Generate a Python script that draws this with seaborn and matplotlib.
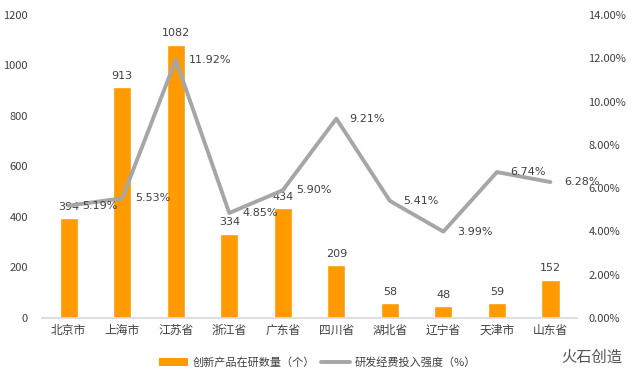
import numpy as np
import pandas as pd
import matplotlib
matplotlib.use("Agg")
import matplotlib.pyplot as plt
import seaborn as sns
from matplotlib.ticker import FuncFormatter
from matplotlib.lines import Line2D
from matplotlib.patches import Patch

regions = ["北京市", "上海市", "江苏省", "浙江省", "广东省", "四川省", "湖北省", "辽宁省", "天津市", "山东省"]
products = [394, 913, 1082, 334, 434, 209, 58, 48, 59, 152]
rd_intensity = [5.19, 5.53, 11.92, 4.85, 5.90, 9.21, 5.41, 3.99, 6.74, 6.28]
bar_label = "创新产品在研数量（个）"
line_label = "研发经费投入强度（%）"

sns.set_theme(style="white")
plt.rcParams['font.family'] = ['Noto Sans CJK SC', 'DejaVu Sans']

bar_color = "#FF9A00"
line_color = "#A6A6A6"

fig = plt.figure(figsize=(6.35, 3.84), dpi=100)
ax = fig.add_axes([0.066, 0.172, 0.843, 0.789])

df = pd.DataFrame({"region": regions, "products": products})
sns.barplot(data=df, x="region", y="products", color=bar_color, width=0.34,
            saturation=1, ax=ax, zorder=2)
ax.set_ylim(0, 1200)
ax.set_yticks(range(0, 1201, 200))
ax.set_xlim(-0.5, len(regions) - 0.5)
ax.set_xlabel("")
ax.set_ylabel("")
for s in ["top", "right", "left"]:
    ax.spines[s].set_visible(False)
ax.spines["bottom"].set_color("#D9D9D9")
ax.tick_params(axis="y", labelsize=8, colors="#404040", length=0, pad=10)
ax.tick_params(axis="x", labelsize=8.5, colors="#404040", length=0, pad=4)

for i, v in enumerate(products):
    ax.text(i, v + 25, str(v), ha="center", va="bottom", fontsize=8, color="#404040",
            family="DejaVu Sans")

ax2 = ax.twinx()
sns.lineplot(x=np.arange(len(regions)), y=np.array(rd_intensity) / 100, ax=ax2,
             color=line_color, linewidth=2.8, sort=False, zorder=3)
ax2.set_ylim(0, 0.14)
ax2.set_yticks(np.arange(0, 0.1401, 0.02))
ax2.yaxis.set_major_formatter(FuncFormatter(lambda v, p: f"{v*100:.2f}%"))
ax2.tick_params(axis="y", labelsize=8, colors="#404040", length=0, pad=8)
for s in ["top", "right", "left", "bottom"]:
    ax2.spines[s].set_visible(False)
ax2.set_ylabel("")

for i, v in enumerate(rd_intensity):
    ax2.text(i + 0.25, v / 100, f"{v:.2f}%", ha="left", va="center", fontsize=8,
             color="#404040", family="DejaVu Sans")

handles = [Patch(facecolor=bar_color, edgecolor="none"),
           Line2D([0], [0], color=line_color, linewidth=2.8)]
fig.legend(handles, [bar_label, line_label], loc="center", bbox_to_anchor=(0.5, 0.055),
           ncol=2, frameon=False, fontsize=8, handlelength=2.6, columnspacing=0.6,
           handletextpad=0.4, labelcolor="#404040")

fig.text(0.98, 0.07, "火石创造", ha="right", va="center", fontsize=11, color="#555555")

fig.savefig("out.png", dpi=100)
